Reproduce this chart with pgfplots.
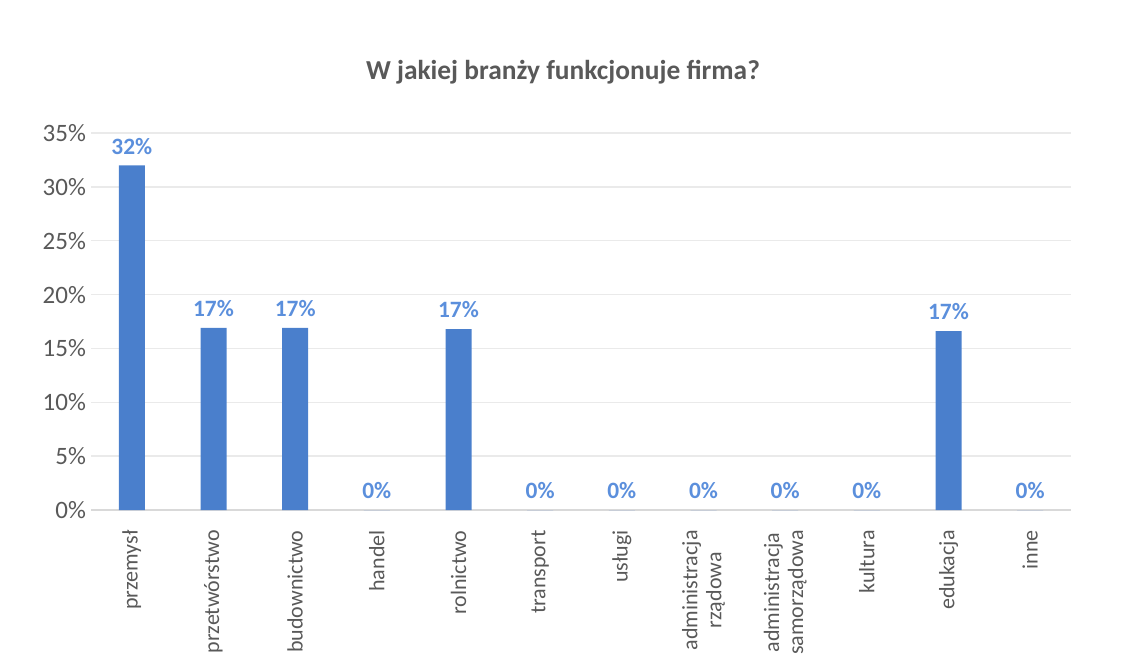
\documentclass[border=0pt]{standalone}
\usepackage{fontspec}
\setmainfont{Carlito}
\usepackage{pgfplots}
\pgfplotsset{compat=1.18}
\usetikzlibrary{calc}

\definecolor{barblue}{HTML}{4A7FCC}
\definecolor{lblblue}{HTML}{5B8FDC}
\definecolor{txtgray}{HTML}{595959}
\definecolor{gridgray}{HTML}{EAEAEA}
\definecolor{basegray}{HTML}{D9D9D9}

\begin{document}
\begin{tikzpicture}
\useasboundingbox (-45.5pt,-75.5pt) rectangle (521.5pt,255pt);
\begin{axis}[
    at={(0pt,0pt)}, anchor=south west,
    scale only axis,
    width=490pt, height=188.5pt,
    xmin=-0.5, xmax=11.5,
    ymin=0, ymax=35,
    ytick={0,5,...,35},
    yticklabel={\pgfmathprintnumber{\tick}\%},
    /pgf/number format/assume math mode=true,
    xtick=data,
    xticklabels={przemysł, przetwórstwo, budownictwo, handel, rolnictwo, transport, usługi, {administracja\\rządowa}, {administracja\\samorządowa}, kultura, edukacja, inne},
    xticklabel style={rotate=90, anchor=east, align=center, inner xsep=10pt, font=\fontsize{11}{12}\selectfont, text=txtgray},
    yticklabel style={font=\fontsize{12.5}{13}\selectfont, text=txtgray, xshift=1pt},
    major tick length=0pt,
    axis x line*=bottom,
    axis y line*=left,
    y axis line style={draw=none},
    x axis line style={draw=basegray, line width=0.8pt, -},
    ymajorgrids,
    grid style={draw=gridgray, line width=0.7pt},
    ybar, bar width=13pt,
    nodes near coords={\pgfmathprintnumber[fixed,precision=0]{\pgfplotspointmeta}\%},
    nodes near coords style={font=\bfseries\fontsize{11.7}{13}\selectfont, text=lblblue, yshift=2pt},
    clip=false,
]
\addplot[fill=barblue, draw=none] coordinates {
    (0,32) (1,16.9) (2,16.9) (3,0) (4,16.8) (5,0) (6,0) (7,0) (8,0) (9,0) (10,16.6) (11,0)
};
\end{axis}
\node[font=\bfseries\fontsize{13.7}{15}\selectfont, text=txtgray] at (236pt,219pt) {W jakiej branży funkcjonuje firma?};
\end{tikzpicture}
\end{document}
